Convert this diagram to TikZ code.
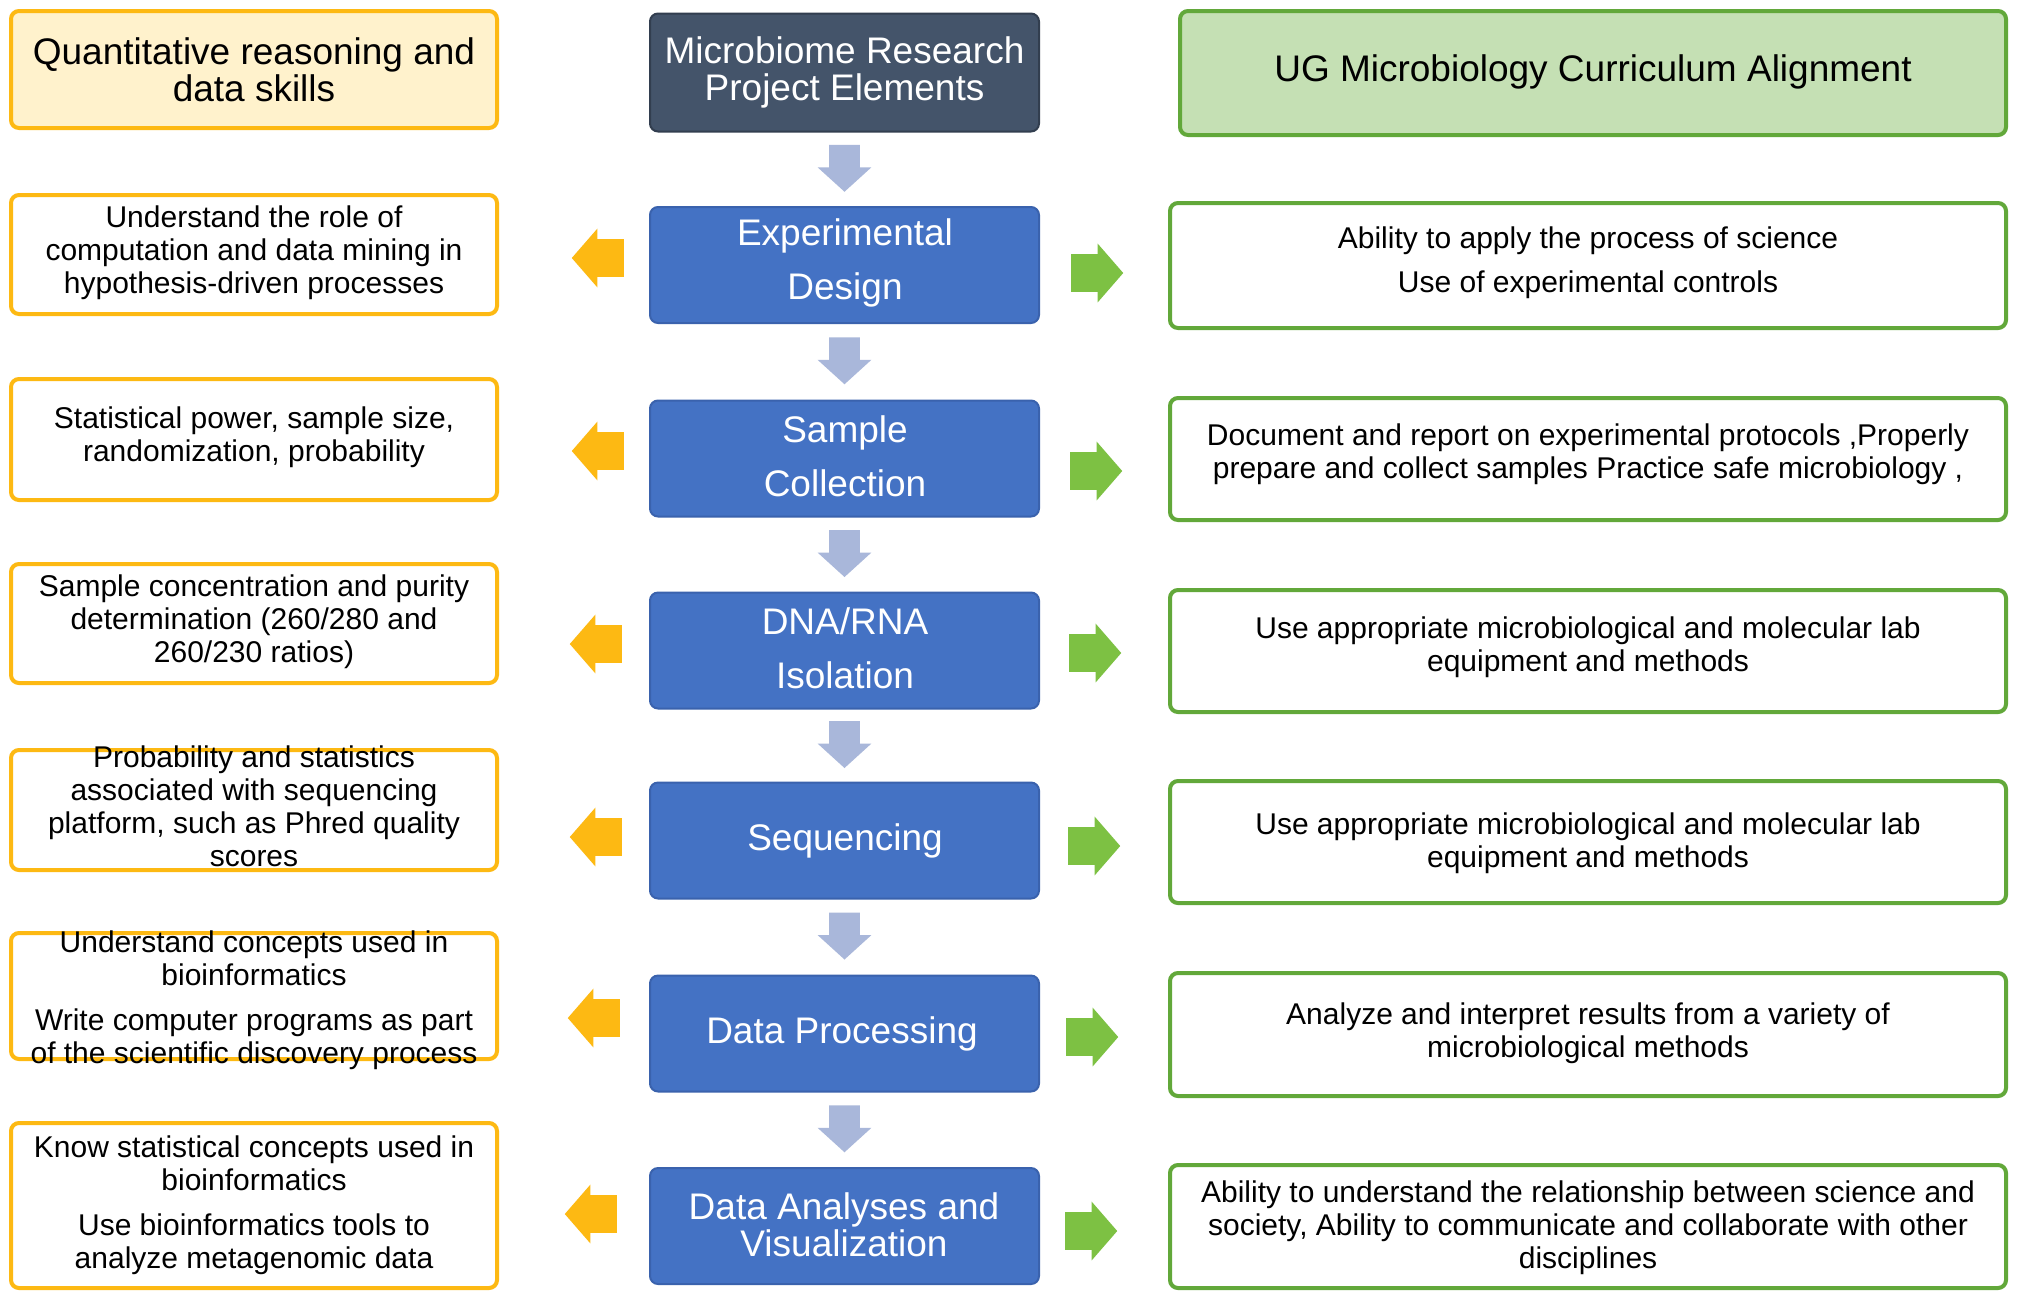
\documentclass[tikz,border=0pt]{standalone}
\usepackage{fontspec}
\setmainfont{Liberation Sans}
\usetikzlibrary{shapes.arrows,calc}
\definecolor{goldB}{HTML}{FDB913}
\definecolor{goldA}{HTML}{FDB913}
\definecolor{ylwF}{HTML}{FFF2CC}
\definecolor{greenB}{HTML}{62A83A}
\definecolor{greenA}{HTML}{7DC143}
\definecolor{greenF}{HTML}{C5E0B4}
\definecolor{slate}{HTML}{44546A}
\definecolor{slateD}{HTML}{323E4F}
\definecolor{blueF}{HTML}{4472C4}
\definecolor{blueD}{HTML}{3A62AD}
\definecolor{downA}{HTML}{A9B7DA}
\begin{document}
\begin{tikzpicture}[x=0.5pt,y=-0.5pt,
  box/.style={rectangle, rounded corners=4pt, inner sep=0pt},
  lbox/.style={box, draw=goldB, line width=2pt, fill=white, minimum width=243pt},
  cbox/.style={box, draw=blueD, line width=1pt, fill=blueF, minimum width=194.5pt, minimum height=58pt},
  rbox/.style={box, draw=greenB, line width=2pt, fill=white, minimum width=418pt},
  txt/.style={align=center, inner sep=0pt, font=\fontsize{15}{16.5}\selectfont},
  ttl/.style={align=center, inner sep=0pt, font=\fontsize{18.5}{18.5}\selectfont},
  ctxt/.style={align=center, inner sep=0pt, text=white, font=\fontsize{18.5}{27}\selectfont},
  sarrow/.style={single arrow, draw=none, inner xsep=0pt, inner ysep=9.25pt,
     minimum height=26pt, single arrow head extend=5.25pt, single arrow tip angle=98},
  larrow/.style={sarrow, fill=goldA, shape border rotate=180},
  rarrow/.style={sarrow, fill=greenA},
  darrow/.style={single arrow, fill=downA, draw=none, inner xsep=7.5pt, inner ysep=0pt, shape border rotate=270,
     minimum height=23.5pt, single arrow head extend=5.75pt, single arrow tip angle=95.5}
]
\useasboundingbox (0,0) rectangle (2021,1297);
\fill[white] (0,0) rectangle (2021,1297);

% ---- title row
\node[lbox, fill=ylwF, minimum height=58.5pt] (L0) at (254,69.5) {};
\node[ttl] (L0t) at (254,70) {Quantitative reasoning and\\data skills};
\node[box, draw=slateD, line width=1pt, fill=slate, minimum width=194.5pt, minimum height=59pt] (C0) at (844.5,72.5) {};
\node[ttl, text=white] (C0t) at (844.5,72) {Microbiome Research\\Project Elements};
\node[box, draw=greenB, line width=2pt, fill=greenF, minimum width=413pt, minimum height=62pt] (R0) at (1593,73) {};
\node[ttl] (R0t) at (1593,72) {UG Microbiology Curriculum Alignment};

% ---- left column
\node[lbox, minimum height=59.5pt] (L1) at (254,254.5) {};
\node[lbox, minimum height=60.5pt] (L2) at (254,439.5) {};
\node[lbox, minimum height=59.5pt] (L3) at (254,623.5) {};
\node[lbox, minimum height=60pt] (L4) at (254,810) {};
\node[lbox, minimum height=63pt] (L5) at (254,996) {};
\node[lbox, minimum height=82.5pt] (L6) at (254,1205.5) {};
\node[txt] (L1t) at (254,253) {Understand the role of\\computation and data mining in\\hypothesis-driven processes};
\node[txt] (L2t) at (254,437) {Statistical power, sample size,\\randomization, probability};
\node[txt] (L3t) at (254,622) {Sample concentration and purity\\determination (260/280 and\\260/230 ratios)};
\node[txt] (L4t) at (254,806) {Probability and statistics\\associated with sequencing\\platform, such as Phred quality\\scores};
\node[txt] (L5t) at (254,1000) {Understand concepts used in\\bioinformatics\\[6pt]Write computer programs as part\\of the scientific discovery process};
\node[txt] (L6t) at (254,1205) {Know statistical concepts used in\\bioinformatics\\[6pt]Use bioinformatics tools to\\analyze metagenomic data};

% ---- centre column
\node[cbox] (C1) at (844.5,265) {};
\node[cbox] (C2) at (844.5,458.5) {};
\node[cbox] (C3) at (844.5,650.5) {};
\node[cbox] (C4) at (844.5,840.5) {};
\node[cbox] (C5) at (844.5,1033.5) {};
\node[cbox] (C6) at (844.5,1226) {};
\node[ctxt] (C1t) at (845,263) {Experimental\\Design};
\node[ctxt] (C2t) at (845,456) {Sample\\Collection};
\node[ctxt] (C3t) at (845,648) {DNA/RNA\\Isolation};
\node[ctxt] (C4t) at (845,841) {Sequencing};
\node[ctxt] (C5t) at (842,1034) {Data Processing};
\node[ctxt, font=\fontsize{18.5}{18.5}\selectfont] (C6t) at (844,1225) {Data Analyses and\\Visualization};

% ---- right column
\node[rbox, minimum height=62.5pt] (R1) at (1588,265.5) {};
\node[rbox, minimum height=61pt] (R2) at (1588,459) {};
\node[rbox, minimum height=61pt] (R3) at (1588,651) {};
\node[rbox, minimum height=61pt] (R4) at (1588,842) {};
\node[rbox, minimum height=61.5pt] (R5) at (1588,1034.5) {};
\node[rbox, minimum height=61.5pt] (R6) at (1588,1226.5) {};
\node[txt] (R1t) at (1588,263) {Ability to apply the process of science\\[5.5pt]Use of experimental controls};
\node[txt] (R2t) at (1588,454) {Document and report on experimental protocols ,Properly\\prepare and collect samples Practice safe microbiology ,};
\node[txt] (R3t) at (1588,647) {Use appropriate microbiological and molecular lab\\equipment and methods};
\node[txt] (R4t) at (1588,843) {Use appropriate microbiological and molecular lab\\equipment and methods};
\node[txt] (R5t) at (1588,1033) {Analyze and interpret results from a variety of\\microbiological methods};
\node[txt] (R6t) at (1588,1228) {Ability to understand the relationship between science and\\society, Ability to communicate and collaborate with other\\disciplines};

% ---- down arrows
\node[darrow] (D1) at ($(C0.south)!0.5!(C1.north)+(0,-8)$) {};
\node[darrow] (D2) at ($(C1.south)!0.5!(C2.north)+(0,-8)$) {};
\node[darrow] (D3) at ($(C2.south)!0.5!(C3.north)+(0,-8)$) {};
\node[darrow] (D4) at ($(C3.south)!0.5!(C4.north)+(0,-8)$) {};
\node[darrow] (D5) at ($(C4.south)!0.5!(C5.north)+(0,-8)$) {};
\node[darrow] (D6) at ($(C5.south)!0.5!(C6.north)+(0,-8)$) {};

% ---- side arrows
\node[larrow] (A1) at (606,258) {};
\node[larrow] (A2) at (606,451) {};
\node[larrow] (A3) at (604,644) {};
\node[larrow] (A4) at (604,837) {};
\node[larrow] (A5) at (602,1018) {};
\node[larrow] (A6) at (599,1214) {};
\node[rarrow] (B1) at (1089,273) {};
\node[rarrow] (B2) at (1088,471) {};
\node[rarrow] (B3) at (1087,653) {};
\node[rarrow] (B4) at (1086,846) {};
\node[rarrow] (B5) at (1084,1037) {};
\node[rarrow] (B6) at (1083,1231) {};
\end{tikzpicture}
\end{document}
